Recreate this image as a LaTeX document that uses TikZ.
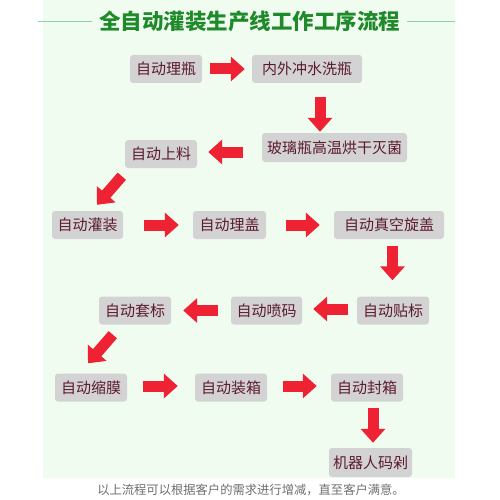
\documentclass[tikz,border=0pt]{standalone}
\usepackage{fontspec}
\newfontfamily\cjk{Noto Sans CJK SC}
\usetikzlibrary{arrows.meta,calc}
\definecolor{panel}{HTML}{F1FCF1}
\definecolor{boxgray}{HTML}{D3D3D3}
\definecolor{boxtext}{HTML}{5C1A30}
\definecolor{arrowred}{HTML}{EE2233}
\definecolor{titlegreen}{HTML}{1E8A2A}
\definecolor{ruleline}{HTML}{8CCFA8}
\definecolor{footgray}{HTML}{707070}
\tikzset{
  stepbox/.style={fill=boxgray, rounded corners=3pt, text=boxtext, font=\cjk\fontsize{15}{15}\selectfont,
    minimum height=28pt, inner sep=0pt, minimum width=#1},
  stepbox/.default=72pt,
  blk/.style={draw=arrowred, line width=11pt, -{Triangle[width=24pt,length=14pt]}},
}
\begin{document}
\begin{tikzpicture}[x=1pt,y=-1pt]
\useasboundingbox (0,0) rectangle (500,500);
\fill[white] (0,0) rectangle (500,500);
\fill[panel] (43,0) rectangle (455,478);
% title
\node[font=\cjk\bfseries\fontsize{21.5}{21.5}\selectfont, text=titlegreen] (title) at (249.5,21) {全自动灌装生产线工作工序流程};
\coordinate (l1) at (38,21);
\coordinate (l2) at (92,21);
\coordinate (r2) at (407,21);
\coordinate (r1) at (455,21);
\draw[ruleline, line width=0.8pt] (l1) -- (l2);
\draw[ruleline, line width=0.8pt] (r2) -- (r1);
% boxes
\node[stepbox] (b1) at (166,69) {自动理瓶};
\node[stepbox=110pt] (b2) at (307,69) {内外冲水洗瓶};
\node[stepbox=145pt, minimum height=29pt] (b3) at (334.5,147.5) {玻璃瓶高温烘干灭菌};
\node[stepbox] (b4) at (161,154) {自动上料};
\node[stepbox=71pt] (b5) at (87.5,225) {自动灌装};
\node[stepbox=73pt] (b6) at (229.5,225) {自动理盖};
\node[stepbox=110pt] (b7) at (389,225) {自动真空旋盖};
\node[stepbox] (b8) at (393,310.5) {自动贴标};
\node[stepbox=71pt] (b9) at (266.5,310.5) {自动喷码};
\node[stepbox] (b10) at (135,310.5) {自动套标};
\node[stepbox] (b11) at (91,387.5) {自动缩膜};
\node[stepbox] (b12) at (231,387.5) {自动装箱};
\node[stepbox] (b13) at (367,387.5) {自动封箱};
\node[stepbox=83pt, minimum height=29pt] (b14) at (370.5,462.5) {机器人码剁};
% footer
\node[font=\cjk\fontsize{12.3}{12.3}\selectfont, text=footgray] (foot) at (251,490) {以上流程可以根据客户的需求进行增减，直至客户满意。};
% arrows
\draw[blk, shorten <=8pt, shorten >=7pt] (b1.east) -- (b2.west);
\draw[blk, shorten <=14pt, shorten >=1pt] ($(b2.south)+(13,0)$) -- ($(b3.north)+(-14.5,0)$);
\draw[blk, shorten <=19pt, shorten >=11pt] ($(b3.west |- b4.east)+(0,-2)$) -- ($(b4.east)+(0,-2)$);
\draw[blk] ($(b4.south west)+(-3,8)$) -- ($(b5.north)+(9.5,-6)$);
\draw[blk, shorten <=21pt, shorten >=14pt] (b5.east) -- (b6.west);
\draw[blk, shorten <=20pt, shorten >=14pt] (b6.east) -- (b7.west);
\draw[blk, shorten <=7pt, shorten >=16pt] ($(b7.south)+(3.5,0)$) -- ($(b8.north)+(-0.5,0)$);
\draw[blk, shorten <=9pt, shorten >=11pt] ($(b8.west)+(0,-1.5)$) -- ($(b9.east)+(0,-1.5)$);
\draw[blk, shorten <=13pt, shorten >=12pt] (b9.west) -- (b10.east);
\draw[blk] ($(b10.south west)+(14,10)$) -- ($(b11.north)+(-3,-10)$);
\draw[blk, shorten <=16pt, shorten >=17pt] ($(b11.east)+(0,-1.5)$) -- ($(b12.west)+(0,-1.5)$);
\draw[blk, shorten <=16pt, shorten >=14pt] ($(b12.east)+(0,-1.5)$) -- ($(b13.west)+(0,-1.5)$);
\draw[blk, shorten <=6pt, shorten >=5pt] ($(b13.south)+(6,0)$) -- ($(b14.north)+(2.5,0)$);
\end{tikzpicture}
\end{document}
